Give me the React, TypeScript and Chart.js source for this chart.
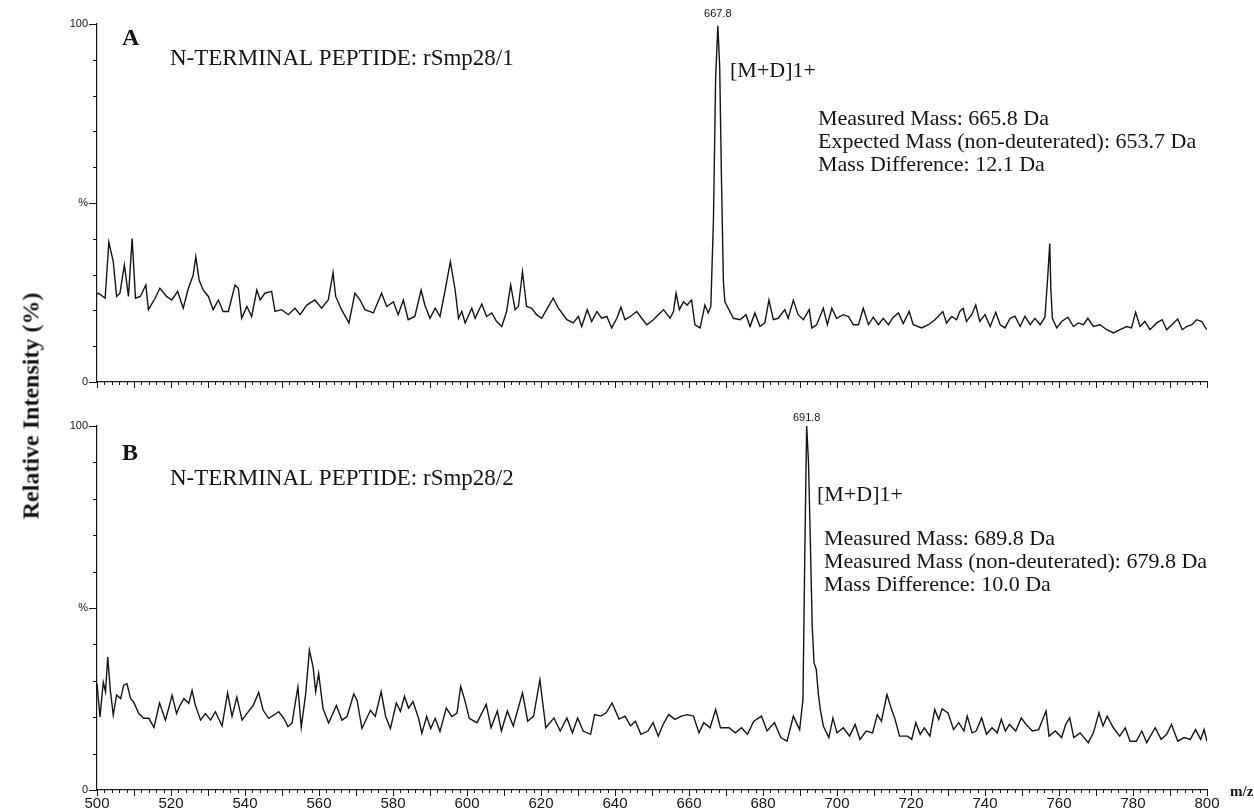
import React, { useEffect, useRef } from 'react';
import { Chart, registerables } from 'chart.js';
Chart.register(...registerables);

// ---------- Panel A: N-terminal peptide rSmp28/1 ----------
const mzA = [
  500.0, 500.4, 502.2, 503.2, 504.4, 505.3, 506.2, 507.4, 508.5, 509.5, 510.4, 511.7, 513.2, 513.9, 515.7,
  517.0, 518.8, 520.2, 521.8, 523.3, 524.7, 526.0, 526.7, 527.6, 528.7, 530.1, 531.4, 532.8, 534.1, 535.5,
  537.3, 538.2, 539.1, 540.5, 541.8, 543.2, 544.1, 545.4, 547.2, 548.1, 549.9, 551.7, 553.5, 554.9, 556.7,
  558.9, 560.7, 562.5, 563.8, 564.5, 566.1, 568.1, 569.7, 571.1, 572.4, 574.7, 576.9, 578.3, 580.1, 581.4,
  582.8, 584.1, 585.9, 587.6, 588.6, 590.0, 591.4, 592.7, 594.1, 595.5, 596.8, 597.7, 598.6, 599.5, 601.3,
  602.2, 604.0, 605.3, 606.7, 608.0, 609.4, 610.7, 611.8, 613.0, 613.9, 615.0, 616.1, 617.5, 618.8, 620.2,
  621.5, 623.3, 624.7, 627.0, 628.7, 630.1, 631.0, 632.5, 633.7, 635.1, 636.4, 637.8, 639.1, 640.5, 641.6,
  642.7, 644.1, 645.9, 647.2, 648.6, 650.4, 651.7, 653.1, 654.9, 655.8, 656.5, 657.4, 658.5, 659.5, 660.7,
  661.6, 663.0, 664.3, 665.2, 665.9, 666.6, 667.2, 667.8, 668.3, 668.8, 669.3, 669.7, 670.6, 672.0, 673.8,
  675.4, 676.5, 677.8, 679.2, 680.5, 681.6, 682.8, 684.1, 685.9, 686.8, 688.2, 689.5, 690.9, 692.5, 693.2,
  694.5, 696.3, 697.4, 698.6, 699.9, 701.7, 703.1, 704.4, 705.8, 707.1, 708.5, 709.8, 711.2, 712.5, 713.9,
  715.2, 716.6, 717.9, 719.5, 720.6, 722.9, 724.7, 726.5, 728.6, 729.6, 731.0, 732.3, 733.2, 734.1, 735.0,
  736.4, 737.5, 738.6, 740.0, 741.4, 742.9, 744.1, 745.4, 746.8, 748.1, 749.5, 750.8, 752.2, 753.5, 754.9,
  756.2, 756.9, 757.5, 757.8, 758.2, 759.4, 760.7, 762.4, 763.9, 765.2, 766.6, 767.8, 769.3, 771.1, 772.9,
  774.7, 776.5, 778.3, 779.6, 780.7, 781.9, 783.2, 784.6, 786.4, 787.9, 789.1, 790.5, 792.1, 793.3, 794.5,
  795.9, 797.2, 798.6, 799.9,
];
const intA = [
  24.5, 24.8, 23.4, 39.0, 33.6, 23.9, 24.8, 32.7, 23.9, 40.1, 23.4, 23.9, 27.1, 20.2, 23.4,
  26.2, 23.9, 22.9, 25.3, 20.6, 26.2, 29.9, 35.0, 28.5, 25.7, 23.9, 20.2, 22.9, 19.7, 19.7,
  27.1, 26.2, 17.8, 21.1, 18.3, 25.7, 22.9, 24.8, 25.3, 19.7, 20.2, 18.8, 20.6, 18.8, 21.5,
  22.9, 20.6, 22.9, 30.5, 23.9, 20.2, 16.5, 24.8, 22.9, 20.2, 19.3, 24.8, 21.1, 22.4, 18.8,
  22.9, 17.4, 18.3, 25.7, 21.5, 17.8, 20.6, 18.3, 25.7, 33.6, 25.7, 17.8, 19.7, 16.5, 20.6,
  17.8, 21.8, 18.3, 19.3, 16.9, 15.5, 19.7, 27.1, 20.2, 21.1, 30.8, 21.1, 20.6, 18.8, 17.8,
  20.2, 23.4, 20.6, 17.4, 16.5, 18.3, 15.5, 20.2, 16.9, 19.7, 17.8, 18.3, 15.1, 17.8, 20.9,
  17.4, 18.3, 19.7, 17.8, 16.0, 17.4, 18.8, 20.2, 17.8, 19.7, 24.8, 20.2, 22.4, 21.5, 22.9,
  16.0, 15.1, 21.5, 19.3, 21.1, 45.0, 85.0, 99.5, 88.0, 55.0, 28.0, 22.4, 20.6, 17.8, 17.4,
  18.8, 15.5, 19.3, 15.5, 16.5, 22.9, 17.4, 17.8, 20.2, 17.8, 22.8, 18.8, 17.4, 20.2, 15.1,
  16.0, 20.6, 16.0, 20.6, 17.8, 18.8, 18.3, 16.0, 16.0, 20.6, 16.0, 18.1, 16.0, 17.8, 16.0,
  18.1, 19.3, 16.3, 19.7, 16.0, 15.1, 16.0, 17.4, 19.7, 16.5, 18.3, 17.4, 19.7, 20.6, 16.9,
  18.8, 21.5, 16.9, 18.8, 15.5, 19.5, 16.0, 15.1, 17.8, 18.4, 15.5, 18.4, 16.0, 17.8, 16.0,
  18.1, 28.5, 38.7, 26.0, 17.8, 15.1, 16.9, 18.1, 15.5, 16.5, 16.0, 17.8, 15.5, 16.0, 14.6,
  13.7, 14.6, 15.5, 15.1, 19.5, 15.5, 16.9, 14.6, 16.5, 17.4, 14.6, 16.0, 17.6, 14.6, 15.5,
  16.0, 17.4, 16.9, 14.6,
];

// ---------- Panel B: N-terminal peptide rSmp28/2 ----------
const mzB = [
  500.0, 500.8, 501.7, 502.3, 502.9, 503.6, 504.4, 505.3, 506.4, 507.2, 508.1, 509.1, 509.9, 511.3, 512.6,
  514.0, 515.4, 516.9, 518.5, 520.3, 521.5, 522.4, 523.5, 524.8, 525.7, 526.6, 528.0, 529.3, 530.7, 532.0,
  533.8, 535.3, 536.5, 537.8, 539.2, 540.5, 542.2, 543.7, 544.9, 546.4, 547.8, 549.1, 550.5, 551.6, 552.7,
  554.3, 555.2, 556.4, 557.4, 558.4, 559.1, 559.9, 561.1, 562.6, 564.7, 566.2, 567.6, 569.4, 570.3, 571.6,
  573.9, 575.2, 576.8, 578.0, 579.3, 580.9, 582.0, 583.1, 584.2, 585.4, 586.9, 587.8, 589.1, 590.2, 591.4,
  592.7, 594.4, 595.9, 597.3, 598.3, 599.5, 600.6, 602.7, 605.2, 606.5, 608.2, 609.3, 610.9, 612.5, 615.0,
  616.4, 618.0, 619.7, 621.3, 623.5, 625.2, 627.0, 628.5, 629.9, 631.4, 633.4, 634.5, 636.2, 637.6, 639.2,
  641.1, 642.7, 644.2, 645.5, 647.0, 648.9, 650.3, 651.7, 653.0, 654.5, 656.2, 657.9, 659.6, 661.2, 662.7,
  664.0, 665.7, 667.2, 668.5, 670.8, 672.5, 674.2, 675.8, 677.5, 679.6, 681.1, 683.1, 684.8, 686.5, 688.2,
  689.9, 690.8, 691.3, 691.8, 692.3, 692.8, 693.3, 693.8, 694.4, 695.0, 695.5, 696.3, 697.8, 698.9, 700.0,
  701.7, 703.4, 704.9, 706.2, 707.9, 709.6, 710.9, 712.0, 713.5, 714.6, 715.7, 716.9, 719.1, 720.2, 721.3,
  722.5, 723.6, 725.1, 726.4, 727.5, 728.4, 730.0, 731.5, 732.9, 734.3, 735.2, 736.5, 737.6, 739.1, 740.4,
  741.9, 743.3, 744.4, 745.5, 746.6, 748.3, 749.8, 751.1, 752.8, 754.5, 756.5, 757.3, 759.0, 760.7, 761.8,
  762.9, 764.0, 765.7, 767.9, 769.3, 770.8, 771.9, 773.0, 774.7, 776.4, 777.9, 779.2, 780.9, 782.4, 783.7,
  786.0, 787.6, 789.1, 790.4, 792.1, 793.8, 795.5, 796.9, 798.3, 799.2, 800.0,
];
const intB = [
  29.2, 20.1, 29.6, 27.0, 36.5, 27.4, 20.6, 26.1, 25.1, 28.8, 29.2, 25.1, 24.2, 21.0, 19.7,
  19.7, 17.2, 23.9, 19.2, 26.0, 21.0, 23.2, 25.1, 23.8, 27.4, 23.2, 19.2, 21.0, 19.2, 21.5,
  17.6, 26.7, 20.2, 25.5, 19.2, 21.0, 23.2, 26.8, 21.9, 19.7, 20.6, 21.5, 19.7, 17.4, 18.4,
  28.3, 17.2, 26.4, 38.4, 33.8, 27.0, 32.0, 22.3, 18.4, 23.2, 19.2, 20.2, 26.4, 24.6, 16.9,
  21.9, 20.2, 27.0, 20.2, 16.9, 23.9, 21.6, 25.7, 22.5, 24.3, 19.7, 15.6, 20.2, 16.9, 19.7,
  16.1, 22.5, 20.2, 21.1, 28.5, 24.3, 19.7, 18.5, 23.5, 17.1, 21.7, 16.2, 21.7, 17.6, 26.7,
  18.9, 20.3, 30.3, 17.1, 19.8, 16.2, 19.8, 15.7, 19.8, 16.2, 15.3, 20.7, 20.3, 21.2, 23.9,
  19.5, 20.3, 17.6, 18.9, 15.3, 16.2, 18.5, 14.8, 18.0, 20.7, 19.4, 20.3, 20.7, 20.3, 15.7,
  18.5, 17.1, 22.1, 17.1, 17.1, 15.7, 17.1, 15.3, 18.9, 20.3, 16.2, 18.5, 14.4, 13.4, 20.3,
  16.6, 24.9, 65.0, 100.0, 90.0, 68.0, 45.0, 34.9, 33.1, 26.0, 22.1, 17.6, 14.4, 19.8, 15.7,
  17.1, 14.8, 18.0, 13.9, 16.2, 15.7, 20.7, 18.9, 26.2, 22.6, 19.4, 14.8, 14.8, 13.9, 18.5,
  15.3, 17.1, 14.8, 22.1, 19.4, 22.3, 21.2, 16.6, 18.5, 16.2, 20.3, 15.7, 16.2, 19.8, 15.3,
  17.1, 15.7, 19.4, 16.2, 18.0, 16.2, 19.8, 18.0, 16.2, 16.6, 21.7, 14.8, 16.2, 14.4, 18.0,
  19.8, 14.4, 15.7, 13.0, 15.7, 21.2, 17.6, 20.3, 17.1, 14.8, 17.1, 13.4, 13.4, 16.2, 13.0,
  17.1, 13.9, 15.3, 18.0, 13.4, 14.4, 13.9, 16.6, 13.9, 16.6, 13.4,
];

// ---------- Axis ticks ----------
const xTickLabels = [500, 520, 540, 560, 580, 600, 620, 640, 660, 680, 700, 720, 740, 760, 780, 800];
const yTickValues = [0, 50, 100];
const yTickText = ['0', '%', '100'];

const SERIF = '"Liberation Serif", "Times New Roman", serif';
const SANS = '"Liberation Sans", Arial, sans-serif';
const NARROW = '"Liberation Sans Narrow", "Liberation Sans", Arial, sans-serif';
const INK = '#141414';

type Txt = { text: string; x?: number; mz?: number; y: number; font: string; align?: CanvasTextAlign };

const decorPlugin = {
  id: 'decor',
  afterDraw(chart: any, _args: any, opts: any) {
    const ctx = chart.ctx as CanvasRenderingContext2D;
    const xs = chart.scales.x;
    const ys = chart.scales.y;
    const area = chart.chartArea;
    ctx.save();
    ctx.strokeStyle = INK;
    ctx.lineWidth = 1;
    for (let v = 500; v <= 800; v += 2) {
      const px = Math.round(xs.getPixelForValue(v)) + 0.5;
      const len = v % 10 === 0 ? 6 : 3;
      ctx.beginPath();
      ctx.moveTo(px, area.bottom);
      ctx.lineTo(px, area.bottom + len);
      ctx.stroke();
    }
    for (let v = 0; v <= 100; v += 10) {
      const py = Math.round(ys.getPixelForValue(v)) + 0.5;
      const len = v % 50 === 0 ? 8 : 4;
      ctx.beginPath();
      ctx.moveTo(area.left - len, py);
      ctx.lineTo(area.left, py);
      ctx.stroke();
    }
    ctx.fillStyle = INK;
    ctx.textBaseline = 'alphabetic';
    for (const t of (opts.texts || []) as Txt[]) {
      ctx.font = t.font;
      ctx.textAlign = t.align || 'left';
      const tx = t.mz != null ? xs.getPixelForValue(t.mz) : (t.x as number);
      ctx.fillText(t.text, tx, t.y);
    }
    ctx.restore();
  },
};

function makeChart(
  canvas: HTMLCanvasElement,
  mz: number[],
  inten: number[],
  padTop: number,
  axisH: number,
  showXLabels: boolean,
  texts: Txt[]
) {
  return new Chart(canvas, {
    type: 'line',
    data: {
      datasets: [
        {
          data: mz.map((m, i) => ({ x: m, y: inten[i] })),
          borderColor: INK,
          borderWidth: 1.4,
          pointRadius: 0,
          tension: 0,
          fill: false,
        },
      ],
    },
    plugins: [decorPlugin],
    options: {
      responsive: false,
      animation: false,
      events: [],
      layout: { padding: { top: padTop, right: 47, left: 0, bottom: 0 } },
      plugins: {
        legend: { display: false },
        tooltip: { enabled: false },
        decor: { texts },
      } as any,
      scales: {
        x: {
          type: 'linear',
          min: 500,
          max: 800,
          afterBuildTicks: (s: any) => {
            s.ticks = xTickLabels.map((v) => ({ value: v }));
          },
          afterFit: (s: any) => {
            s.height = axisH;
          },
          grid: { display: true, drawOnChartArea: false, tickLength: 5, tickColor: 'rgba(0,0,0,0)' },
          border: { display: true, color: INK, width: 1.2 },
          ticks: {
            display: showXLabels,
            autoSkip: false,
            maxRotation: 0,
            padding: 0,
            color: INK,
            font: { family: NARROW, size: 15 },
            callback: (v: any) => String(v),
          },
        },
        y: {
          type: 'linear',
          min: 0,
          max: 100,
          afterBuildTicks: (s: any) => {
            s.ticks = yTickValues.map((v) => ({ value: v }));
          },
          afterFit: (s: any) => {
            s.width = 97;
          },
          grid: { display: true, drawOnChartArea: false, tickLength: 8, tickColor: 'rgba(0,0,0,0)' },
          border: { display: true, color: INK, width: 1.2 },
          ticks: {
            padding: 1,
            color: INK,
            font: { family: SANS, size: 11 },
            callback: (v: any) => yTickText[yTickValues.indexOf(Number(v))] ?? '',
          },
        },
      },
    } as any,
  });
}

export default function App() {
  const refA = useRef<HTMLCanvasElement>(null);
  const refB = useRef<HTMLCanvasElement>(null);

  useEffect(() => {
    const textsA: Txt[] = [
      { text: 'A', x: 122, y: 45, font: `bold 24px ${SERIF}` },
      { text: 'N-TERMINAL PEPTIDE: rSmp28/1', x: 170, y: 65, font: `23px ${SERIF}` },
      { text: '667.8', mz: 667.8, y: 17, font: `11px ${SANS}`, align: 'center' },
      { text: '[M+D]1+', x: 730, y: 77, font: `22px ${SERIF}` },
      { text: 'Measured Mass: 665.8 Da', x: 818, y: 125, font: `22px ${SERIF}` },
      { text: 'Expected Mass (non-deuterated): 653.7 Da', x: 818, y: 148, font: `22px ${SERIF}` },
      { text: 'Mass Difference: 12.1 Da', x: 818, y: 171, font: `22px ${SERIF}` },
    ];
    const textsB: Txt[] = [
      { text: 'B', x: 122, y: 60, font: `bold 24px ${SERIF}` },
      { text: 'N-TERMINAL PEPTIDE: rSmp28/2', x: 170, y: 85, font: `23px ${SERIF}` },
      { text: '691.8', mz: 691.8, y: 21, font: `11px ${SANS}`, align: 'center' },
      { text: '[M+D]1+', x: 817, y: 101, font: `22px ${SERIF}` },
      { text: 'Measured Mass: 689.8 Da', x: 824, y: 145, font: `22px ${SERIF}` },
      { text: 'Measured Mass (non-deuterated): 679.8 Da', x: 824, y: 168, font: `22px ${SERIF}` },
      { text: 'Mass Difference: 10.0 Da', x: 824, y: 191, font: `22px ${SERIF}` },
      { text: 'm/z', x: 1230, y: 396, font: `bold 15px ${SERIF}` },
    ];
    const a = makeChart(refA.current!, mzA, intA, 24, 18, false, textsA);
    const b = makeChart(refB.current!, mzB, intB, 26, 21, true, textsB);
    return () => {
      a.destroy();
      b.destroy();
    };
  }, []);

  return (
    <div style={{ position: 'absolute', left: 0, top: 0, width: 1254, height: 811, background: '#fff', overflow: 'hidden' }}>
      <canvas ref={refA} width={1254} height={400} style={{ position: 'absolute', left: 0, top: 0 }} />
      <canvas ref={refB} width={1254} height={411} style={{ position: 'absolute', left: 0, top: 400 }} />
      <div
        style={{
          position: 'absolute',
          left: 31,
          top: 406,
          transform: 'translate(-50%, -50%) rotate(-90deg)',
          whiteSpace: 'nowrap',
          fontFamily: SERIF,
          fontWeight: 'bold',
          fontSize: 24,
          color: INK,
        }}
      >
        Relative Intensity (%)
      </div>
    </div>
  );
}
